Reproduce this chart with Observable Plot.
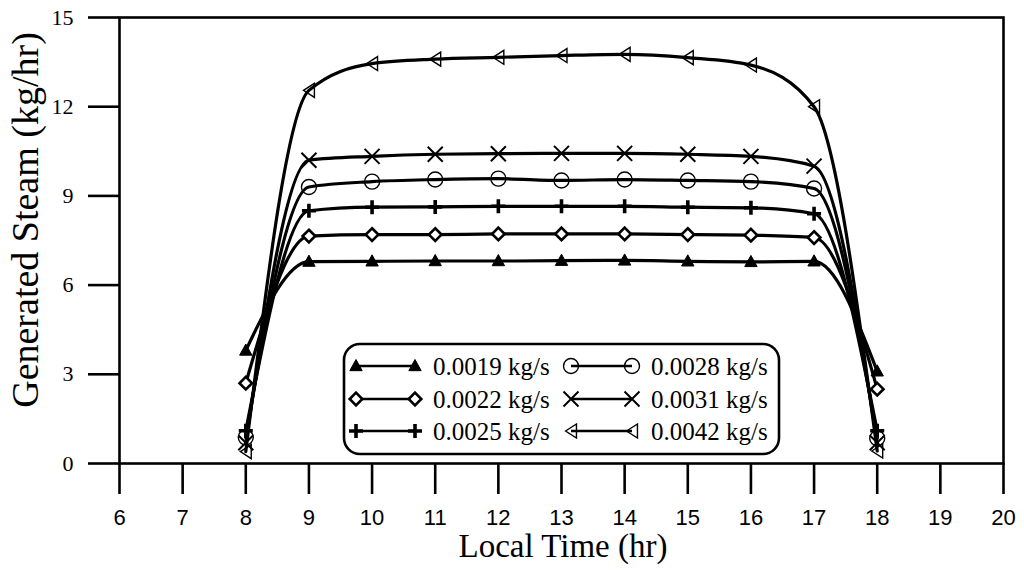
<!DOCTYPE html>
<html>
<head>
<meta charset="utf-8">
<script src="https://cdn.jsdelivr.net/npm/d3@7"></script>
<script src="https://cdn.jsdelivr.net/npm/@observablehq/plot@0.6"></script>
<style>
  html, body { margin: 0; padding: 0; background: #fff; }
  #chart { width: 1024px; height: 572px; }
</style>
</head>
<body>
<div id="chart"></div>
<script>
// ---- data ----
const hours = [8, 9, 10, 11, 12, 13, 14, 15, 16, 17, 18];
const seriesNames = ["0.0019 kg/s", "0.0022 kg/s", "0.0025 kg/s", "0.0028 kg/s", "0.0031 kg/s", "0.0042 kg/s"];
const s0019 = [3.8, 6.79, 6.8, 6.81, 6.81, 6.82, 6.83, 6.8, 6.78, 6.8, 3.1];
const s0022 = [2.7, 7.65, 7.7, 7.7, 7.72, 7.72, 7.72, 7.7, 7.68, 7.6, 2.5];
const s0025 = [1.1, 8.5, 8.62, 8.63, 8.65, 8.65, 8.65, 8.62, 8.6, 8.4, 1.1];
const s0028 = [0.88, 9.3, 9.48, 9.55, 9.58, 9.52, 9.55, 9.52, 9.48, 9.25, 0.85];
const s0031 = [0.7, 10.2, 10.33, 10.4, 10.42, 10.43, 10.43, 10.4, 10.33, 10.0, 0.7];
const s0042 = [0.4, 12.55, 13.45, 13.6, 13.66, 13.72, 13.76, 13.65, 13.4, 12.0, 0.42];
const seriesValues = [s0019, s0022, s0025, s0028, s0031, s0042];
const xTicks = [6, 7, 8, 9, 10, 11, 12, 13, 14, 15, 16, 17, 18, 19, 20];
const yTicks = [0, 3, 6, 9, 12, 15];
const xLabel = "Local Time (hr)";
const yLabel = "Generated Steam (kg/hr)";

// ---- custom marker symbols ----
const rad = (size) => Math.sqrt(size / Math.PI);
const symTriUp = { draw(c, s) { const r = rad(s); c.moveTo(0, -r); c.lineTo(r * 0.95, r * 0.72); c.lineTo(-r * 0.95, r * 0.72); c.closePath(); } };
const symDiamond = { draw(c, s) { const r = rad(s); c.moveTo(0, -r); c.lineTo(r, 0); c.lineTo(0, r); c.lineTo(-r, 0); c.closePath(); } };
const symPlus = { draw(c, s) { const r = rad(s); c.moveTo(-r, 0); c.lineTo(r, 0); c.moveTo(0, -r); c.lineTo(0, r); } };
const symCircle = { draw(c, s) { const r = rad(s); c.moveTo(r, 0); c.arc(0, 0, r, 0, 2 * Math.PI); } };
const symTimes = { draw(c, s) { const r = rad(s); c.moveTo(-r, -r); c.lineTo(r, r); c.moveTo(-r, r); c.lineTo(r, -r); } };
const symTriLeft = { draw(c, s) { const r = rad(s); c.moveTo(-r * 0.78, 0); c.lineTo(r * 0.78, -r); c.lineTo(r * 0.78, r); c.closePath(); } };

const markerStyles = [
  { symbol: symTriUp, r: 6.5, fill: "black", stroke: "black", strokeWidth: 1 },
  { symbol: symDiamond, r: 6.3, fill: "white", stroke: "black", strokeWidth: 2.6 },
  { symbol: symPlus, r: 7, fill: "none", stroke: "black", strokeWidth: 3.6 },
  { symbol: symCircle, r: 7.5, fill: "none", stroke: "black", strokeWidth: 1.4 },
  { symbol: symTimes, r: 7.5, fill: "none", stroke: "black", strokeWidth: 2 },
  { symbol: symTriLeft, r: 7, fill: "none", stroke: "black", strokeWidth: 1.4 }
];

const table = seriesNames.flatMap((name, i) =>
  hours.map((h, j) => ({ series: name, hour: h, value: seriesValues[i][j] }))
);

const serif = "'Liberation Serif', 'Times New Roman', serif";
const sans = "'Liberation Sans', Arial, sans-serif";

const chart = Plot.plot({
  width: 1024,
  height: 572,
  marginTop: 17,
  marginRight: 21,
  marginBottom: 109,
  marginLeft: 119,
  style: { background: "white", color: "black", fontFamily: serif },
  x: { domain: [6, 20] },
  y: { domain: [0, 15] },
  marks: [
    Plot.line(table, { x: "hour", y: "value", z: "series", stroke: "black", strokeWidth: 3.2, curve: "monotone-x" }),
    ...seriesNames.map((name, i) =>
      Plot.dot(table.filter(d => d.series === name), { x: "hour", y: "value", ...markerStyles[i] })
    ),
    Plot.frame({ stroke: "black", strokeWidth: 2.6 }),
    Plot.axisX({ ticks: xTicks, tickSize: 31, tickPadding: 15, label: null, tickFormat: d3.format("d"), strokeWidth: 2.6 }),
    Plot.axisY({ ticks: yTicks, tickSize: 31, tickPadding: 15, label: null, tickFormat: d3.format("d"), strokeWidth: 2.6 })
  ]
});

document.getElementById("chart").appendChild(chart);

const svg = d3.select(chart);
svg.selectAll('g[aria-label="x-axis tick label"]').attr("font-size", null).attr("font-family", null);
svg.selectAll('g[aria-label="x-axis tick label"] text')
  .style("font-size", "22px").style("font-family", sans);
svg.selectAll('g[aria-label="y-axis tick label"] text')
  .style("font-size", "22px").style("font-family", serif);

// axis titles
svg.append("text")
  .attr("transform", "translate(38,220) rotate(-90)")
  .attr("text-anchor", "middle")
  .style("font-family", serif)
  .style("font-size", "38px")
  .attr("fill", "black")
  .text(yLabel);
svg.append("text")
  .attr("x", 563)
  .attr("y", 557)
  .attr("text-anchor", "middle")
  .style("font-family", serif)
  .style("font-size", "33px")
  .attr("fill", "black")
  .text(xLabel);

// legend box inside plot area
const lg = svg.append("g").attr("aria-label", "legend");
lg.append("rect")
  .attr("x", 344).attr("y", 344).attr("width", 435).attr("height", 110)
  .attr("rx", 16).attr("fill", "white").attr("stroke", "black").attr("stroke-width", 2.6);
const rowsY = [366, 399, 431];
const cols = [{ m: [356, 415], t: 433 }, { m: [571, 632], t: 651 }];
seriesNames.forEach((name, i) => {
  const col = cols[Math.floor(i / 3)];
  const y = rowsY[i % 3];
  const st = markerStyles[i];
  lg.append("line").attr("x1", col.m[0]).attr("x2", col.m[1]).attr("y1", y).attr("y2", y)
    .attr("stroke", "black").attr("stroke-width", 2.6);
  const d = d3.symbol().type(st.symbol).size(Math.PI * st.r * st.r)();
  col.m.forEach(mx => {
    lg.append("path").attr("d", d).attr("transform", `translate(${mx},${y})`)
      .attr("fill", st.fill).attr("stroke", st.stroke).attr("stroke-width", st.strokeWidth);
  });
  lg.append("text").attr("x", col.t).attr("y", y).attr("dy", "0.35em")
    .attr("text-anchor", "start")
    .style("font-family", serif).style("font-size", "25px").attr("fill", "black").text(name);
});
</script>
</body>
</html>
